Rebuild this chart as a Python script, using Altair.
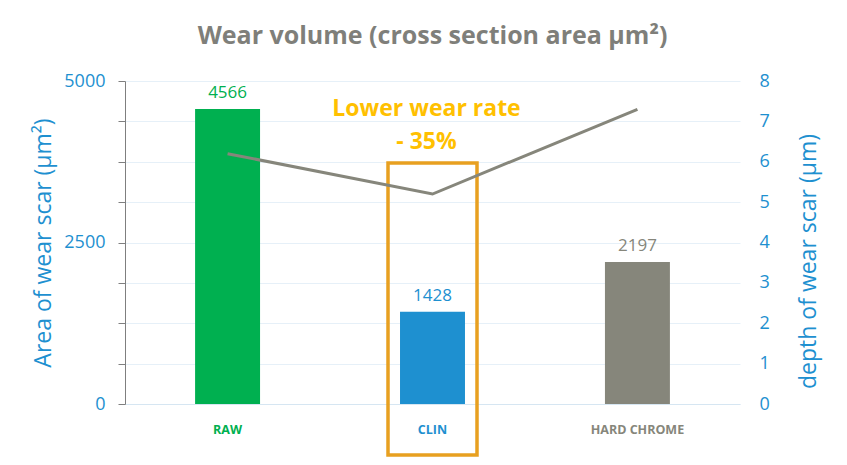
import altair as alt
import pandas as pd

categories = ["RAW", "CLIN", "HARD CHROME"]
area_values = [4566, 1428, 2197]
depth_values = [6.2, 5.2, 7.3]
bar_colors = ["#00b050", "#1e90d0", "#86867b"]
annotation_lines = ["Lower wear rate", "- 35%"]
annotation_y = [4570, 4060]
box_top = 3730
box_bottom = -790

df = pd.DataFrame({"cat": categories, "area": area_values, "depth": depth_values,
                   "color": bar_colors})
ann = pd.DataFrame({"cat": ["CLIN", "CLIN"], "txt": annotation_lines, "y": annotation_y})
box = pd.DataFrame({"cat": ["CLIN"], "y": [box_top], "y2": [box_bottom]})

FONT = "Open Sans"
BLUE = "#1e90d0"
label_color_expr = "datum.value == 'RAW' ? '#00b050' : (datum.value == 'CLIN' ? '#1e90d0' : '#86867b')"

x_enc = alt.X("cat:N", sort=categories, title=None,
              scale=alt.Scale(paddingInner=0.683, paddingOuter=0.342),
              axis=alt.Axis(labelAngle=0, labelFont=FONT, labelFontWeight="bold",
                            labelFontSize=12.5, labelColor={"expr": label_color_expr},
                            ticks=False, domainColor="#d6e6f2", labelPadding=19))

y_left = alt.Y("area:Q", scale=alt.Scale(domain=[0, 5000]),
               title="Area of wear scar (µm²)",
               axis=alt.Axis(values=[i * 625 for i in range(9)], format="d",
                             labelExpr="datum.value % 2500 == 0 ? datum.label : ''",
                             labelFont=FONT, labelFontSize=18, labelColor=BLUE,
                             titleFont=FONT, titleFontSize=23, titleFontWeight="normal",
                             titleColor=BLUE, titlePadding=8,
                             tickSize=7, tickColor="#7f7f7f", domainColor="#7f7f7f",
                             labelPadding=13, gridColor="#e6f0f8"))

bars = alt.Chart(df).mark_bar().encode(
    x=x_enc, y=y_left, color=alt.Color("color:N", scale=None))

bar_text = alt.Chart(df).mark_text(font=FONT, fontSize=17, dy=-16).encode(
    x=alt.X("cat:N", sort=categories), y=alt.Y("area:Q"),
    text=alt.Text("area:Q", format="d"), color=alt.Color("color:N", scale=None))

ann_text = alt.Chart(ann).mark_text(font=FONT, fontSize=23, fontWeight="bold",
                                    color="#ffc000", baseline="middle", dx=-6).encode(
    x=alt.X("cat:N", sort=categories), y=alt.Y("y:Q"), text="txt:N")

box_mark = alt.Chart(box).mark_bar(size=89, filled=False, stroke="#e8a020",
                                   strokeWidth=3.5, clip=False).encode(
    x=alt.X("cat:N", sort=categories), y=alt.Y("y:Q"), y2="y2:Q")

left = alt.layer(bars, bar_text, ann_text, box_mark)

line = alt.Chart(df).mark_line(color="#86867b", strokeWidth=3).encode(
    x=alt.X("cat:N", sort=categories),
    y=alt.Y("depth:Q", scale=alt.Scale(domain=[0, 8]),
            title="depth of wear scar (µm)",
            axis=alt.Axis(orient="right", values=list(range(9)), grid=False,
                          ticks=False, domain=False, labelFont=FONT, labelFontSize=18,
                          labelColor=BLUE, labelPadding=19, titleFont=FONT,
                          titleFontSize=23, titleFontWeight="normal", titleColor=BLUE,
                          titleAngle=270, titleX=68, titleY=180,
                          titleAlign="center", titleBaseline="middle")))

chart = alt.layer(left, line).resolve_scale(y="independent").properties(
    width=615, height=323,
    title=alt.TitleParams("Wear volume (cross section area µm²)", font=FONT,
                          fontSize=25, fontWeight="bold", color="#7f7f7a",
                          anchor="middle", offset=23),
    padding={"left": 117, "top": 73, "right": 99, "bottom": 54},
    autosize=alt.AutoSizeParams(type="none"),
).configure_view(stroke=None)

chart.save("out.html", embed_options={"renderer": "svg", "actions": False})
